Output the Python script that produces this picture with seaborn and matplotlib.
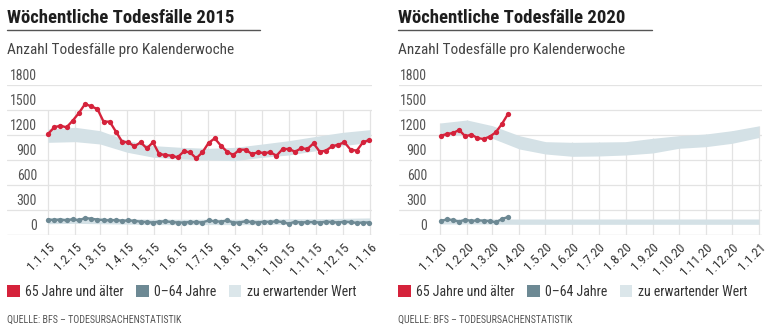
import numpy as np
import pandas as pd
import matplotlib
matplotlib.use("Agg")
import matplotlib.pyplot as plt
from matplotlib.patches import Patch
from matplotlib.lines import Line2D
import seaborn as sns

sns.set_theme(style="white")
FONT = ["Liberation Sans Narrow", "DejaVu Sans Condensed", "Roboto Condensed", "Roboto", "DejaVu Sans"]
plt.rcParams["font.family"] = FONT

# ---------------- data ----------------
years = [2015, 2020]
titles = ["Wöchentliche Todesfälle 2015", "Wöchentliche Todesfälle 2020"]
subtitle = "Anzahl Todesfälle pro Kalenderwoche"
y_ticks = [0, 300, 600, 900, 1200, 1500, 1800]
legend_labels = ["65 Jahre und älter", "0–64 Jahre", "zu erwartender Wert"]
source = "QUELLE: BFS – TODESURSACHENSTATISTIK"

old_2015 = [1212, 1292, 1312, 1292, 1372, 1464, 1572, 1544, 1512, 1360, 1360, 1240, 1120,
            1112, 1064, 1112, 1040, 1112, 972, 960, 952, 932, 1004, 992, 920, 992, 1104,
            1160, 1072, 1000, 960, 1024, 1024, 972, 992, 984, 992, 952, 1032, 1032, 1000,
            1040, 1032, 1100, 1000, 1012, 1064, 1084, 1112, 1024, 1012, 1112, 1140]
young_2015 = [185, 180, 185, 175, 190, 175, 205, 195, 185, 180, 175, 180, 170, 175, 170,
              160, 155, 150, 160, 165, 155, 150, 150, 155, 155, 150, 175, 165, 160, 175,
              150, 150, 165, 155, 150, 160, 155, 165, 155, 135, 160, 150, 155, 155, 150,
              160, 155, 150, 160, 155, 145, 150, 150]

old_2020 = [1192, 1212, 1224, 1260, 1184, 1204, 1164, 1152, 1180, 1232, 1332, 1452]
young_2020 = [168, 188, 180, 160, 184, 168, 176, 172, 168, 152, 192, 216]

# expected range, first of each month (Jan .. next Jan)
exp_old_hi_2015 = [1272, 1292, 1252, 1132, 1072, 1052, 1040, 1052, 1092, 1132, 1184, 1232, 1264]
exp_old_lo_2015 = [1112, 1120, 1092, 992, 932, 912, 900, 892, 932, 960, 1012, 1072, 1112]
exp_young_hi_2015 = [205, 210, 205, 195, 190, 190, 190, 190, 190, 195, 195, 200, 205]
exp_young_lo_2015 = [135, 140, 135, 130, 125, 125, 125, 125, 125, 130, 130, 135, 135]

exp_old_hi_2020 = [1344, 1380, 1312, 1192, 1120, 1112, 1116, 1120, 1160, 1192, 1212, 1252, 1310]
exp_old_lo_2020 = [1180, 1210, 1160, 1032, 972, 944, 948, 960, 984, 1040, 1060, 1100, 1170]
exp_young_hi_2020 = [192, 194, 192, 192, 192, 192, 192, 192, 192, 192, 192, 192, 192]
exp_young_lo_2020 = [132, 132, 130, 128, 128, 128, 128, 128, 128, 128, 128, 128, 128]

series = {
    2015: dict(old=old_2015, young=young_2015, start="2015-01-01",
               hi=exp_old_hi_2015, lo=exp_old_lo_2015,
               yhi=exp_young_hi_2015, ylo=exp_young_lo_2015),
    2020: dict(old=old_2020, young=young_2020, start="2020-01-02",
               hi=exp_old_hi_2020, lo=exp_old_lo_2020,
               yhi=exp_young_hi_2020, ylo=exp_young_lo_2020),
}

# ---------------- style ----------------
RED = "#d5223b"
GREY = "#6d8994"
BAND = "#d4e1e6"
GRID = "#e3e3e3"

W, H = 768, 333
fig = plt.figure(figsize=(W / 100, H / 100), dpi=100)
fig.patch.set_facecolor("white")


def fx(px):
    return px / W


def fy(py):
    return 1 - py / H


# panel geometry in pixels
panels = [
    dict(left=7, right=372, x0=48, x1=370, lab=37, tx=7, line_end=260),
    dict(left=399, right=762, x0=440, x1=759, lab=427, tx=398, line_end=652),
]
TOP, BOTTOM = 85, 235  # pixel rows of 1800 and 0

for year, title, geo in zip(years, titles, panels):
    d = series[year]
    ax = fig.add_axes([fx(geo["left"]), fy(BOTTOM), fx(geo["right"] - geo["left"]),
                       (BOTTOM - TOP) / H])
    ax.set_facecolor("none")

    jan1 = pd.Timestamp(f"{year}-01-01")
    nxt = pd.Timestamp(f"{year + 1}-01-01")
    ndays = (nxt - jan1).days
    ppd = (geo["x1"] - geo["x0"]) / ndays
    xmin = jan1 - pd.Timedelta(days=(geo["x0"] - geo["left"]) / ppd)
    xmax = nxt + pd.Timedelta(days=(geo["right"] - geo["x1"]) / ppd)
    ax.set_xlim(xmin, xmax)
    ax.set_ylim(0, 1800)

    months = pd.date_range(jan1, nxt, freq="MS")

    # horizontal grid with labels sitting just above the lines
    for v in y_ticks:
        ax.axhline(v, color=GRID if v else "#cfcfcf", lw=0.9, zorder=0)
        ax.annotate(str(v), xy=((geo["lab"] - geo["left"]) / (geo["right"] - geo["left"]), v),
                    xycoords=ax.get_yaxis_transform(), xytext=(0, 1.5),
                    textcoords="offset points", ha="right", va="bottom",
                    fontsize=10, color="#555555")

    # vertical month grid
    if year == 2015:
        ax.vlines(months, 0, 1500, color=GRID, lw=0.9, zorder=0)
    else:
        ax.vlines(months, 0, d["hi"], color=GRID, lw=0.9, zorder=0)

    # expected ranges
    ax.fill_between(months, d["lo"], d["hi"], color=BAND, lw=0, zorder=1)
    ax.fill_between(months, d["ylo"], d["yhi"], color=BAND, lw=0, zorder=1)

    weeks = pd.date_range(d["start"], periods=len(d["old"]), freq="7D")
    df = pd.DataFrame({"Woche": weeks, "alt": d["old"], "jung": d["young"]})
    sns.lineplot(data=df, x="Woche", y="alt", ax=ax, color=RED, lw=1.7,
                 marker="o", markersize=3.8, markeredgewidth=0, zorder=3)
    sns.lineplot(data=df, x="Woche", y="jung", ax=ax, color=GREY, lw=1.7,
                 marker="o", markersize=3.8, markeredgewidth=0, zorder=3)

    ax.set_xlabel("")
    ax.set_ylabel("")
    ax.set_yticks([])
    ax.set_xticks(months)
    ax.set_xticklabels([f"{m.day}.{m.month}.{str(m.year)[2:]}" for m in months],
                       rotation=45, ha="right", rotation_mode="anchor",
                       fontsize=9.5, color="#333333")
    ax.tick_params(axis="x", length=0, pad=4)
    for s in ax.spines.values():
        s.set_visible(False)

    # headings
    fig.text(fx(geo["tx"]), fy(18), title, fontsize=13.5, fontweight="bold",
             color="#1e1e1e", ha="left", va="center")
    fig.add_artist(Line2D([fx(geo["tx"]), fx(geo["line_end"])], [fy(29.5), fy(29.5)],
                          color="#555555", lw=1.0))
    fig.text(fx(geo["tx"]), fy(50), subtitle, fontsize=11, color="#444444",
             ha="left", va="center")

    handles = [Patch(facecolor=RED, edgecolor="none"),
               Patch(facecolor=GREY, edgecolor="none"),
               Patch(facecolor="#dbe6ea", edgecolor="none")]
    fig.legend(handles, legend_labels, loc="center left",
               bbox_to_anchor=(fx(geo["tx"]), fy(292)), ncol=3, frameon=False,
               fontsize=10, handlelength=0.9, handleheight=0.9,
               handletextpad=0.4, columnspacing=0.9, borderpad=0, borderaxespad=0,
               labelcolor="#333333")

    fig.text(fx(geo["tx"]), fy(320), source, fontsize=7.2, color="#555555",
             ha="left", va="center")

fig.savefig("out.png", dpi=100, facecolor="white")
